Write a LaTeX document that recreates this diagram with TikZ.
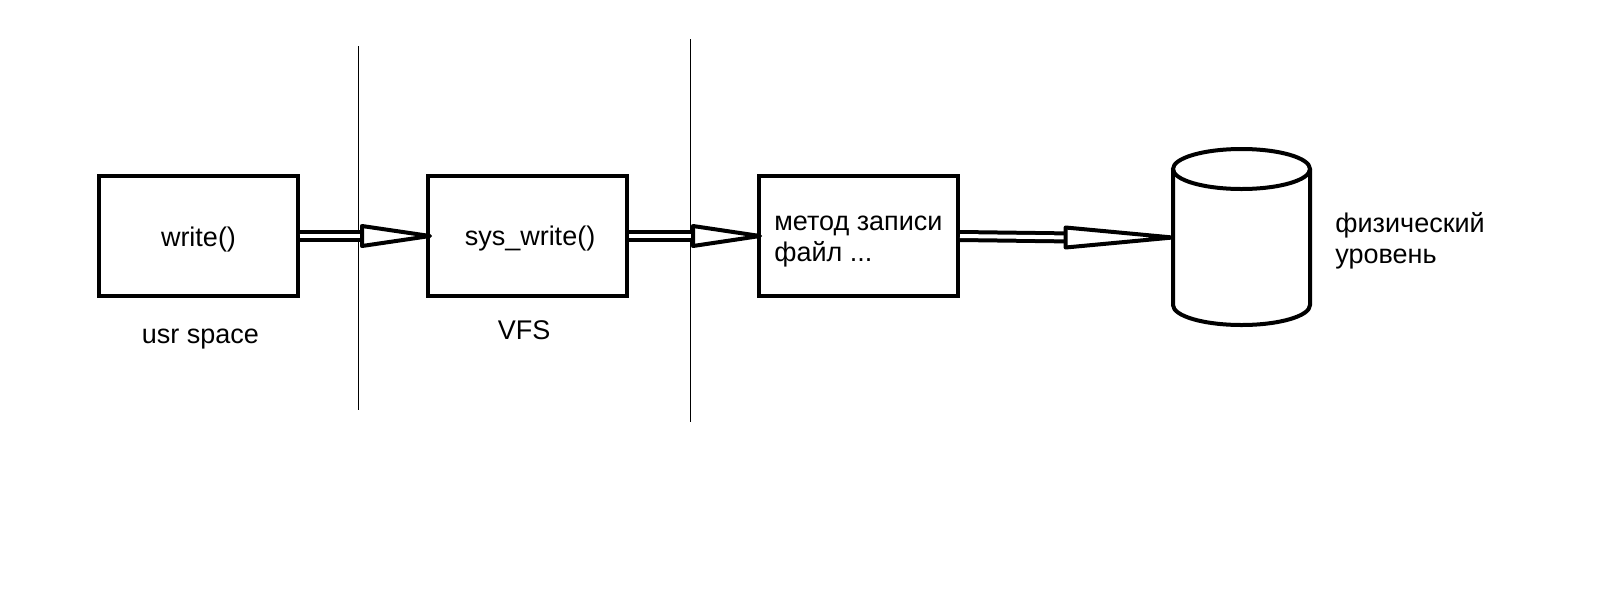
\documentclass[tikz,border=0pt]{standalone}
\usepackage{fontspec}
\setmainfont{Liberation Sans}
\usetikzlibrary{calc, positioning}
\tikzset{
    block/.style={rectangle, draw=black, line width=2pt, minimum width=99.5pt, minimum height=60pt, inner sep=0pt},
    txt/.style={font=\fontsize{13.5}{15.5}\selectfont, align=left, inner sep=0pt},
    pipe/.style={draw=black, line width=2pt, double=white, double distance=2pt},
    head/.style={draw=black, fill=white, line width=2pt, line join=round},
    cyl/.style={draw=black, line width=2pt},
    border/.style={draw=black, line width=0.5pt}
}

\begin{document}
\begin{tikzpicture}[x=0.5pt, y=-0.5pt]
        	\useasboundingbox (0,0) rectangle (1607,606);
        	% boxes
        	\node (write) [block] at (198,236) {};
        	\node (syswrite) [block] at (527.5,236) {};
        	\node (method) [block] at (858.5,236) {};
        	\node (disk) [minimum width=69.5pt, minimum height=89pt, inner sep=0pt] at (1241.5,237.5) {};
        	
        	% texts
        	\node (writetxt) [txt, anchor=base] at (198.5,246) {write()};
        	\node (systxt) [txt, anchor=base] at (530,245) {sys\_write()};
        	\node (methodtxt) [txt, anchor=west] at (774,241.5) {метод записи\\файл ...};
        	\node (usr) [txt, anchor=base] at (200.5,343) {usr space};
        	\node (vfs) [txt, anchor=base] at (524,339) {VFS};
        	\node (phys) [txt, anchor=west] at (1335,241) {физический\\уровень};
        	
        	% disk
        	\draw[cyl] (1241.5,169) ellipse [x radius=34.25pt, y radius=10pt];
        	\draw[cyl] (1173,169) -- (1173,305)
        		arc [start angle=180, end angle=360, x radius=34.25pt, y radius=10pt] -- (1310,169);
        	
        	% borders
        	\draw[border] (358,46) -- (358,410);
        	\draw[border] (690,39) -- (690,422);
        	
        	% arrows
        	\draw[pipe] (write.east) -- ($(syswrite.west)+(-58,0)$);
        	\draw[head] ($(syswrite.west)+(4,0)$) -- ++(-68,-10) -- ++(0,20) -- cycle;
        	\draw[pipe] (syswrite.east) -- ($(method.west)+(-58,0)$);
        	\draw[head] ($(method.west)+(3,0)$) -- ++(-67,-10) -- ++(0,20) -- cycle;
        	\draw[pipe] (method.east) -- ($(disk.west)+(-98,0)$);
        	\draw[head] ($(disk.west)+(1,0)$) -- ++(-107,-10) -- ++(0,20) -- cycle;
        \end{tikzpicture}
\end{document}
